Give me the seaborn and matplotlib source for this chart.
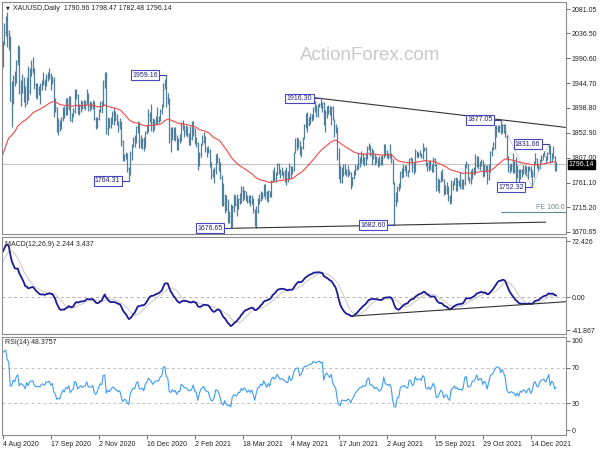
import numpy as np
import pandas as pd
import matplotlib
matplotlib.use("Agg")
import matplotlib.pyplot as plt
import matplotlib.transforms as mtransforms
import seaborn as sns

# closes before the visible window, only used to warm up the indicators (Apr-Jul 2020, 3 Aug)
pre_close = [
    1591, 1613, 1620, 1663, 1647, 1646, 1683, 1713, 1727, 1716, 1718, 1683, 1694, 1686, 1714, 1730, 1728, 1713, 1707, 1713, 1687,
    1700, 1702, 1706, 1686, 1725, 1703, 1697, 1702, 1716, 1730, 1743, 1733, 1745, 1747, 1726, 1735, 1728, 1709, 1708, 1719, 1730,
    1740, 1727, 1699, 1714, 1685, 1698, 1715, 1738, 1728, 1730, 1725, 1726, 1727, 1722, 1743, 1754, 1768, 1761, 1763, 1771, 1772, 1781,
    1770, 1775, 1774, 1784, 1795, 1809, 1803, 1798, 1802, 1810, 1808, 1796, 1810, 1818, 1842, 1871, 1889, 1902, 1942, 1958, 1970, 1958, 1975,
    1976,
]

# visible daily bars, 4 Aug 2020 - 7 Jan 2022 (one row per month)
close = [
    2019, 2039, 2063, 2035, 2028, 1911, 1915, 1954, 1944, 1986, 2004, 1929, 1947, 1940, 1929, 1907, 1954, 1930, 1964, 1968,
    1970, 1943, 1930, 1934, 1929, 1932, 1946, 1945, 1940, 1956, 1955, 1960, 1944, 1951, 1912, 1900, 1863, 1868, 1862, 1881, 1898, 1886,
    1906, 1900, 1913, 1877, 1887, 1894, 1930, 1922, 1892, 1902, 1908, 1899, 1904, 1907, 1924, 1904, 1902, 1902, 1908, 1878, 1868, 1878,
    1894, 1908, 1904, 1948, 1951, 1862, 1877, 1866, 1877, 1888, 1888, 1879, 1872, 1867, 1870, 1837, 1805, 1812, 1812, 1788, 1777,
    1815, 1831, 1841, 1839, 1863, 1871, 1838, 1836, 1840, 1827, 1854, 1864, 1886, 1881, 1873, 1861, 1871, 1877, 1877, 1877, 1893, 1898,
    1943, 1950, 1918, 1913, 1850, 1844, 1856, 1845, 1851, 1829, 1840, 1840, 1871, 1866, 1856, 1856, 1850, 1843, 1843, 1848,
    1861, 1838, 1834, 1793, 1814, 1831, 1838, 1843, 1826, 1823, 1820, 1794, 1775, 1775, 1784, 1809, 1806, 1797, 1770, 1734,
    1723, 1737, 1712, 1697, 1700, 1683, 1716, 1726, 1722, 1719, 1731, 1730, 1745, 1737, 1745, 1738, 1727, 1734, 1725, 1732, 1712, 1685, 1708,
    1728, 1729, 1743, 1737, 1756, 1744, 1732, 1746, 1736, 1764, 1777, 1770, 1778, 1793, 1783, 1777, 1780, 1777, 1773, 1769, 1768,
    1792, 1779, 1785, 1815, 1831, 1836, 1837, 1816, 1826, 1844, 1867, 1868, 1870, 1877, 1881, 1882, 1898, 1897, 1895, 1903, 1906,
    1903, 1908, 1871, 1891, 1899, 1893, 1888, 1899, 1877, 1866, 1859, 1812, 1774, 1764, 1783, 1779, 1779, 1776, 1781, 1779, 1761, 1771,
    1777, 1787, 1792, 1797, 1803, 1803, 1808, 1806, 1808, 1825, 1829, 1812, 1813, 1809, 1803, 1806, 1802, 1797, 1799, 1806, 1829, 1814,
    1813, 1810, 1813, 1804, 1763, 1729, 1729, 1752, 1752, 1779, 1787, 1786, 1788, 1781, 1781, 1805, 1803, 1790, 1792, 1819, 1810, 1814,
    1814, 1810, 1827, 1823, 1795, 1789, 1795, 1787, 1794, 1805, 1795, 1754, 1754, 1764, 1774, 1768, 1743, 1750, 1751, 1734, 1726, 1757,
    1761, 1769, 1760, 1763, 1756, 1757, 1754, 1760, 1793, 1797, 1768, 1765, 1769, 1783, 1784, 1792, 1807, 1793, 1798, 1799, 1783,
    1793, 1788, 1770, 1792, 1818, 1824, 1832, 1849, 1862, 1865, 1863, 1851, 1868, 1859, 1846, 1805, 1789, 1788, 1792, 1788, 1785, 1774,
    1782, 1769, 1783, 1779, 1786, 1783, 1775, 1783, 1787, 1771, 1777, 1799, 1804, 1791, 1789, 1803, 1809, 1811, 1811, 1805, 1815, 1829,
    1801, 1815, 1810, 1791, 1796.14,
]
high = [
    2022, 2055, 2069, 2075, 2042, 2031, 1949, 1960, 1967, 1988, 2015, 2013, 1950, 1962, 1955, 1940, 1955, 1976, 1972, 1988,
    1992, 1973, 1945, 1945, 1939, 1944, 1950, 1966, 1953, 1962, 1966, 1973, 1963, 1958, 1955, 1918, 1900, 1881, 1876, 1882, 1900, 1903,
    1917, 1918, 1920, 1921, 1889, 1898, 1933, 1933, 1925, 1907, 1913, 1912, 1913, 1913, 1933, 1926, 1912, 1910, 1913, 1911, 1882, 1882,
    1896, 1911, 1912, 1950, 1965, 1966, 1882, 1880, 1883, 1893, 1900, 1894, 1887, 1875, 1881, 1875, 1839, 1814, 1818, 1816, 1790,
    1820, 1833, 1846, 1848, 1865, 1875, 1873, 1848, 1843, 1846, 1856, 1868, 1897, 1891, 1907, 1880, 1878, 1884, 1900, 1884, 1897, 1906,
    1945, 1952, 1959.16, 1927, 1917, 1864, 1863, 1863, 1864, 1849, 1844, 1850, 1873, 1876, 1868, 1867, 1866, 1853, 1865, 1875,
    1875, 1862, 1845, 1836, 1817, 1834, 1849, 1855, 1847, 1827, 1829, 1823, 1799, 1786, 1789, 1814, 1816, 1806, 1799, 1775,
    1760, 1740, 1739, 1731, 1709, 1721, 1719, 1740, 1739, 1740, 1733, 1742, 1755, 1755, 1747, 1746, 1739, 1738, 1739, 1738, 1732, 1713, 1718,
    1733, 1740, 1746, 1743, 1759, 1759, 1746, 1748, 1746, 1766, 1784, 1790, 1781, 1797, 1798, 1787, 1789, 1782, 1784, 1790, 1782,
    1798, 1792, 1792, 1817, 1844, 1845, 1844, 1838, 1829, 1846, 1869, 1889, 1891, 1882, 1890, 1887, 1900, 1912, 1904, 1906, 1908,
    1916.30, 1910, 1909, 1895, 1903, 1904, 1903, 1903, 1903, 1878, 1870, 1863, 1825, 1794, 1790, 1795, 1795, 1787, 1793, 1785, 1780, 1772,
    1784, 1795, 1794, 1815, 1809, 1819, 1815, 1809, 1815, 1829, 1834, 1830, 1825, 1822, 1813, 1811, 1806, 1810, 1810, 1812, 1832, 1832,
    1822, 1815, 1832, 1815, 1804, 1763, 1743, 1755, 1760, 1782, 1788, 1795, 1794, 1793, 1785, 1806, 1809, 1807, 1799, 1823, 1820, 1817,
    1821, 1816, 1834, 1827, 1826, 1799, 1800, 1803, 1795, 1809, 1807, 1795, 1770, 1767, 1782, 1787, 1768, 1756, 1762, 1754, 1738, 1765,
    1764, 1770, 1771, 1769, 1766, 1781, 1767, 1767, 1796, 1800, 1796, 1772, 1785, 1788, 1789, 1814, 1810, 1810, 1801, 1804, 1803,
    1795, 1794, 1793, 1795, 1819, 1827, 1836, 1868, 1868, 1868, 1868, 1877.05, 1870, 1870, 1870, 1849, 1811, 1795, 1797, 1816, 1800, 1809,
    1793, 1787, 1787, 1787, 1793, 1793, 1792, 1791, 1792, 1792, 1785, 1801, 1815, 1806, 1795, 1804, 1812, 1816, 1820, 1811, 1818, 1831.66,
    1830, 1815, 1829, 1810, 1798.47,
]
low = [
    1975, 2015, 2032, 2011, 2005, 1911, 1863, 1906, 1939, 1944, 1978, 1924, 1902, 1927, 1910, 1901, 1907, 1913, 1925, 1957,
    1963, 1933, 1918, 1916, 1922, 1906, 1932, 1942, 1931, 1939, 1948, 1952, 1931, 1943, 1882, 1891, 1855, 1849, 1856, 1860, 1874, 1880,
    1885, 1886, 1895, 1874, 1873, 1883, 1889, 1916, 1888, 1885, 1891, 1897, 1898, 1895, 1906, 1894, 1893, 1896, 1897, 1877, 1860, 1861,
    1876, 1892, 1890, 1903, 1935, 1850, 1849, 1861, 1862, 1870, 1868, 1875, 1867, 1855, 1860, 1829, 1800, 1800, 1805, 1781, 1764.31,
    1775, 1803, 1827, 1826, 1835, 1853, 1824, 1825, 1823, 1820, 1825, 1850, 1855, 1873, 1856, 1855, 1858, 1869, 1870, 1871, 1874, 1888,
    1900, 1933, 1901, 1906, 1835, 1817, 1840, 1840, 1837, 1822, 1822, 1835, 1837, 1859, 1846, 1848, 1845, 1830, 1830, 1840,
    1847, 1832, 1826, 1785, 1791, 1809, 1830, 1834, 1818, 1808, 1816, 1789, 1768, 1771, 1761, 1777, 1798, 1782, 1768, 1717,
    1717, 1705, 1708, 1687, 1687, 1676.65, 1679, 1707, 1717, 1700, 1713, 1722, 1723, 1727, 1730, 1727, 1723, 1723, 1718, 1722, 1705, 1681, 1678,
    1705, 1721, 1728, 1731, 1737, 1731, 1728, 1725, 1734, 1735, 1762, 1764, 1763, 1775, 1777, 1770, 1775, 1770, 1763, 1756, 1762,
    1767, 1770, 1777, 1783, 1815, 1822, 1824, 1812, 1808, 1823, 1841, 1861, 1855, 1866, 1869, 1874, 1876, 1891, 1883, 1883, 1900,
    1898, 1891, 1867, 1855, 1881, 1887, 1886, 1868, 1876, 1845, 1852, 1803, 1767, 1761, 1760, 1773, 1776, 1774, 1772, 1775, 1750, 1755,
    1767, 1775, 1785, 1786, 1789, 1797, 1795, 1791, 1794, 1805, 1822, 1810, 1794, 1805, 1794, 1797, 1789, 1791, 1794, 1794, 1806, 1810,
    1807, 1804, 1806, 1798, 1758, 1682.60, 1718, 1726, 1745, 1751, 1769, 1771, 1783, 1773, 1772, 1780, 1800, 1781, 1776, 1781, 1808, 1806,
    1810, 1807, 1805, 1819, 1792, 1782, 1783, 1787, 1780, 1781, 1792, 1745, 1745, 1742, 1763, 1764, 1738, 1740, 1740, 1727, 1721, 1723,
    1747, 1757, 1746, 1745, 1754, 1750, 1750, 1750, 1757, 1788, 1765, 1760, 1759, 1767, 1775, 1777, 1789, 1786, 1784, 1791, 1772,
    1774, 1781, 1759, 1765, 1781, 1811, 1821, 1823, 1845, 1854, 1855, 1850, 1852, 1853, 1845, 1803, 1780, 1779, 1782, 1778, 1779, 1762,
    1769, 1762, 1767, 1772, 1777, 1777, 1773, 1768, 1782, 1771, 1752.32, 1771, 1794, 1788, 1783, 1787, 1799, 1802, 1810, 1797, 1803, 1813,
    1798, 1799, 1806, 1782, 1782.48,
]

date_labels = ["4 Aug 2020", "17 Sep 2020", "2 Nov 2020", "16 Dec 2020", "2 Feb 2021", "18 Mar 2021",
               "4 May 2021", "17 Jun 2021", "2 Aug 2021", "15 Sep 2021", "29 Oct 2021", "14 Dec 2021"]
price_ticks = [2081.05, 2036.50, 1990.60, 1944.70, 1898.80, 1852.90, 1807.00, 1761.10, 1715.20, 1670.65]
macd_ticks = [72.426, 0.0, -41.867]
rsi_ticks = [100, 70, 30, 0]

# marked swing points: (label, bar index, price)
swings = [("1959.16", 109, 1959.16), ("1764.31", 84, 1764.31), ("1676.65", 152, 1676.65),
          ("1916.30", 212, 1916.30), ("1682.60", 261, 1682.60), ("1877.05", 332, 1877.05),
          ("1831.66", 364, 1831.66), ("1752.32", 353, 1752.32)]

# ---- indicators ----
allc = pd.Series(pre_close + close, dtype=float)
n_pre = len(pre_close)
ema55 = allc.ewm(span=55, adjust=False).mean()
macd = allc.ewm(span=12, adjust=False).mean() - allc.ewm(span=26, adjust=False).mean()
signal = macd.rolling(9).mean()
d = allc.diff()
up = d.clip(lower=0).ewm(alpha=1 / 14, adjust=False).mean()
dn = (-d.clip(upper=0)).ewm(alpha=1 / 14, adjust=False).mean()
rsi = 100 - 100 / (1 + up / dn)

n = len(close)
df = pd.DataFrame({
    "i": np.arange(n), "close": close, "high": high, "low": low,
    "ma": ema55.values[n_pre:], "macd": macd.values[n_pre:],
    "signal": signal.values[n_pre:], "rsi": rsi.values[n_pre:],
})

sns.set_theme(style="white")
plt.rcParams["font.family"] = ["Liberation Sans", "DejaVu Sans"]

fig = plt.figure(figsize=(6, 4.5), dpi=100)
ax = fig.add_axes([2 / 600, 1 - 234 / 450, 563.5 / 600, 232 / 450])
ax2 = fig.add_axes([2 / 600, 1 - 334 / 450, 563.5 / 600, 97.3 / 450])
ax3 = fig.add_axes([2 / 600, 1 - 435 / 450, 563.5 / 600, 98.3 / 450])

xmax = 375.2
fs = 5.0
for a in (ax, ax2, ax3):
    a.set_xlim(-0.5, xmax)
    for s in a.spines.values():
        s.set_color("#8a8a8a")
        s.set_linewidth(0.8)
    a.yaxis.tick_right()
    a.tick_params(axis="y", which="both", right=True, length=3, width=0.6, color="#555555",
                  labelsize=fs, pad=1.5, labelcolor="#222222")

# ---- price panel ----
bar_c = "#4f7f9b"
ax.vlines(df["i"], df["low"], df["high"], color=bar_c, lw=0.9)
ax.hlines(df["close"], df["i"], df["i"] + 0.45, color=bar_c, lw=0.6)
sns.lineplot(data=df, x="i", y="ma", ax=ax, color="#f04848", lw=0.8, legend=False)
ax.set_ylim(1666.2, 2094.3)
ax.set_yticks(price_ticks)
ax.set_yticklabels([f"{v:.2f}" for v in price_ticks])
ax.set_xticks([])
ax.set_xlabel("")
ax.set_ylabel("")

last = close[-1]
ax.axhline(last, color="#c4c4c4", lw=0.8, zorder=0)
trans = mtransforms.blended_transform_factory(ax.transAxes, ax.transData)
ax.text(1.006, last - 1.5, f"{last:.2f}", transform=trans, fontsize=fs, color="white", va="center",
        ha="left", zorder=10, bbox=dict(boxstyle="square,pad=0.12", fc="black", ec="black"))

# trend lines through swing points
def line_y(p1, p2, x):
    return p1[1] + (p2[1] - p1[1]) * (x - p1[0]) / (p2[0] - p1[0])

top1, top2 = (212, 1916.30), (332, 1877.05)
ax.plot([top1[0] - 5, xmax], [line_y(top1, top2, top1[0] - 5), line_y(top1, top2, xmax)],
        color="#333333", lw=0.8)
bot1, bot2 = (152, 1676.65), (261, 1682.60)
ax.plot([bot1[0], 362], [bot1[1], line_y(bot1, bot2, 362)], color="#333333", lw=0.8)

# fibonacci expansion
fe = 1831.66 - (1877.05 - 1752.32)
ax.plot([332, 353, 364], [1877.05, 1752.32, 1831.66], color="#9a9a9a", lw=0.6, ls=(0, (1.5, 1.5)))
ax.plot([332, xmax], [fe, fe], color="#5e8c99", lw=0.8)
ax.text(xmax - 0.5, fe + 2, "FE 100.0", fontsize=fs, color="#6a8795", ha="right", va="bottom")

for lab, bi, p in swings:
    ax.plot([bi - 5, bi], [p, p], color="#3c3cb0", lw=0.8)
    ax.text(bi - 5.6, p, lab, fontsize=fs, color="#22227a", ha="right", va="center",
            bbox=dict(boxstyle="square,pad=0.2", fc="white", ec="#4646c0", lw=0.8))

fig.text(6 / 600, 1 - 8.3 / 450, "▼", fontsize=3.5, color="#222222", va="center",
         family=["DejaVu Sans"])
fig.text(13 / 600, 1 - 8.3 / 450, "XAUUSD,Daily  1790.96 1798.47 1782.48 1796.14",
         fontsize=fs, color="#222222", va="center")
fig.text(370 / 600, 1 - 55 / 450, "ActionForex.com", fontsize=13.5, color="#c9c9c9",
         ha="center", va="center")

# ---- MACD panel ----
ax2.axhline(0, color="#b0b0b0", lw=0.7, ls=(0, (3, 3)))
sns.lineplot(data=df, x="i", y="signal", ax=ax2, color="#c8c8c8", lw=0.7, legend=False)
sns.lineplot(data=df, x="i", y="macd", ax=ax2, color="#1b1b96", lw=1.3, legend=False)
ax2.set_ylim(-47, 78)
ax2.set_yticks(macd_ticks)
ax2.set_yticklabels(["72.426", "0.00", "-41.867"])
ax2.set_xticks([])
ax2.set_xlabel("")
ax2.set_ylabel("")
m = df["macd"].values
j1 = 225 + int(np.argmin(m[225:245]))
j2 = 285 + int(np.argmin(m[285:310]))
ax2.plot([j1, xmax], [m[j1], line_y((j1, m[j1]), (j2, m[j2]), xmax)], color="#333333", lw=0.8)
fig.text(5 / 600, 1 - 244 / 450, "MACD(12,26,9) 2.244 3.437", fontsize=fs, color="#222222", va="center")

# ---- RSI panel ----
for lvl in (70, 30):
    ax3.axhline(lvl, color="#c0c0c0", lw=0.7, ls=(0, (3, 3)))
sns.lineplot(data=df, x="i", y="rsi", ax=ax3, color="#3d9cf5", lw=0.8, legend=False)
ax3.set_ylim(-5.6, 104.8)
ax3.set_yticks(rsi_ticks)
ax3.set_yticklabels([str(v) for v in rsi_ticks])
ax3.set_xticks(np.arange(len(date_labels)) * 32)
ax3.set_xticklabels(date_labels, ha="left")
ax3.tick_params(axis="x", bottom=True, length=3, width=0.6, color="#555555", labelsize=fs, pad=1.5,
                labelcolor="#222222")
ax3.set_xlabel("")
ax3.set_ylabel("")
fig.text(5 / 600, 1 - 342.3 / 450, "RSI(14) 48.3757", fontsize=fs, color="#222222", va="center")

fig.savefig("out.png", dpi=100, facecolor="white")
